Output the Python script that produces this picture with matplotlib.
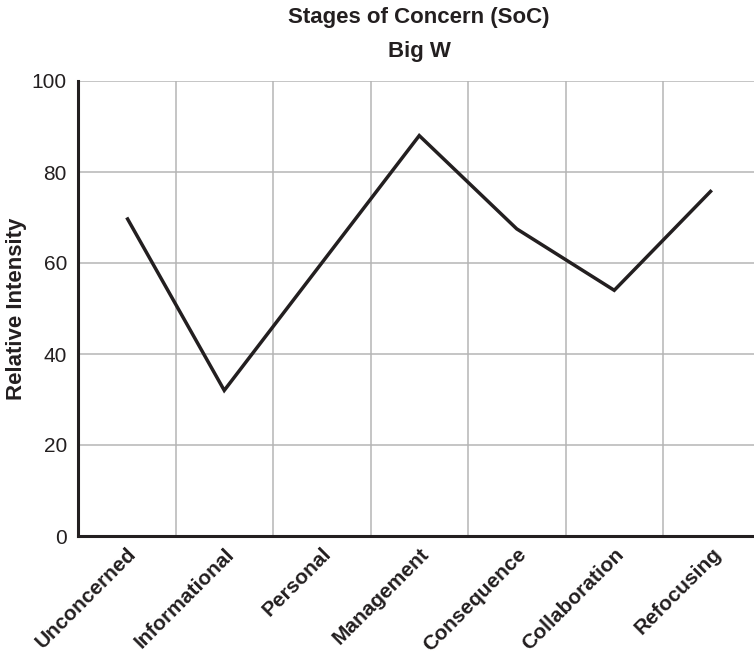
import matplotlib
matplotlib.use("Agg")
import matplotlib.pyplot as plt

plt.rcParams["font.family"] = ["Liberation Sans", "DejaVu Sans"]

# stages of concern profile
stages = ["Unconcerned", "Informational", "Personal", "Management",
          "Consequence", "Collaboration", "Refocusing"]
intensity = [70, 32, 60, 88, 67.5, 54, 76]
y_ticks = [0, 20, 40, 60, 80, 100]

fig = plt.figure(figsize=(7.54, 6.53), dpi=100)
# axes run a bit past the right edge, like the original
ax_w = 682.5
ax = fig.add_axes([78 / 754, 1 - 536 / 653, ax_w / 754, 455 / 653])

x = range(len(stages))
ax.plot(x, intensity, color="#231f20", linewidth=2.5, solid_joinstyle="miter",
        solid_capstyle="butt", zorder=3)

ax.set_xlim(-0.5, len(stages) - 0.5)
ax.set_ylim(0, 100)
ax.set_yticks(y_ticks)
ax.set_yticklabels([str(v) for v in y_ticks], fontsize=15, color="#231f20")
ax.set_xticks(list(x))
ax.set_xticklabels(stages, rotation=45, ha="right", rotation_mode="anchor",
                   fontsize=15, fontweight="bold", color="#231f20")
ax.tick_params(axis="y", length=0, pad=8)
ax.tick_params(axis="x", length=0, pad=6)

# grid: horizontal at y ticks, vertical between categories
for v in y_ticks[1:]:
    ax.axhline(v, color="#b5b5b5", linewidth=1.1, zorder=1)
for b in range(len(stages) - 1):
    ax.axvline(b + 0.5, color="#b5b5b5", linewidth=1.1, zorder=1)

for side in ("top", "right"):
    ax.spines[side].set_visible(False)
for side in ("left", "bottom"):
    ax.spines[side].set_linewidth(2.2)
    ax.spines[side].set_color("#231f20")

ax.set_ylabel("Relative Intensity", fontsize=16, fontweight="bold",
              color="#231f20", va="center")
ax.yaxis.set_label_coords((17 - 78) / ax_w, 0.5)

cx = 0.5 * (78 + 760.5) / 754
fig.text(cx, 1 - 18 / 653, "Stages of Concern (SoC)",
         ha="center", va="center", fontsize=16, fontweight="bold", color="#231f20")
fig.text(cx, 1 - 52 / 653, "Big W",
         ha="center", va="center", fontsize=16, fontweight="bold", color="#231f20")

fig.savefig("out.png", dpi=100)
